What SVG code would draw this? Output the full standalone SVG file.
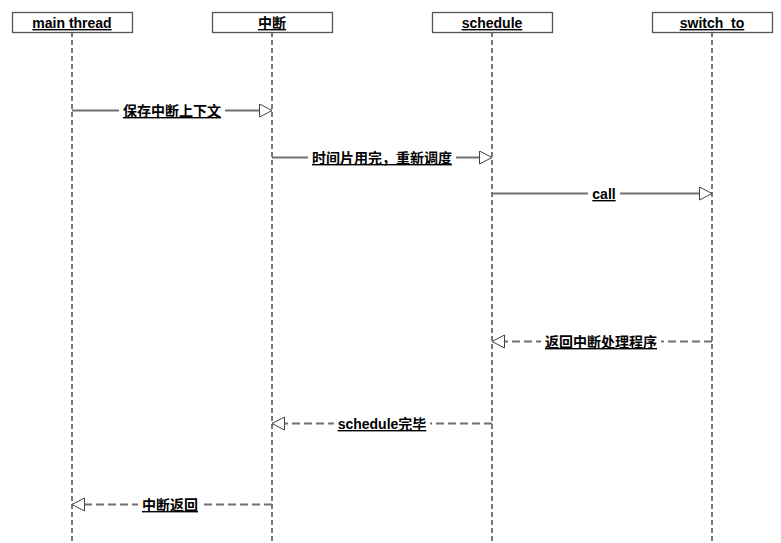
<svg xmlns="http://www.w3.org/2000/svg" width="781" height="543" viewBox="0 0 781 543">
<style>
.box{fill:#fff;stroke:#555;stroke-width:1.3}
.life{stroke:#777;stroke-width:2;stroke-dasharray:5,3;fill:none}
.msg{stroke:#707070;stroke-width:2;fill:none}
.ret{stroke:#707070;stroke-width:2;stroke-dasharray:8,4;fill:none}
.t{font-family:"Liberation Sans","Noto Sans CJK SC",sans-serif;font-size:14px;font-weight:bold;fill:#000;text-decoration:underline;text-anchor:middle}
.lbl{fill:#fff}
</style>
<defs>
<marker id="arr" markerWidth="16" markerHeight="16" refX="13" refY="7" orient="auto" markerUnits="userSpaceOnUse">
<path d="M0.5,0.5 L13,7 L0.5,13.5 Z" fill="#fff" stroke="#444" stroke-width="1"/>
</marker>
</defs>
<rect width="781" height="543" fill="#fff"/>
<g id="n-main">
<line class="life" x1="72" y1="32" x2="72" y2="543"/>
<rect class="box" x="12.5" y="12.5" width="120" height="20"/>
<text class="t" x="72" y="28">main thread</text>
</g>
<g id="n-int">
<line class="life" x1="272" y1="32" x2="272" y2="543"/>
<rect class="box" x="212.5" y="12.5" width="120" height="20"/>
<text class="t" x="272" y="28">中断</text>
</g>
<g id="n-sched">
<line class="life" x1="492" y1="32" x2="492" y2="543"/>
<rect class="box" x="432.5" y="12.5" width="120" height="20"/>
<text class="t" x="492" y="28">schedule</text>
</g>
<g id="n-switch">
<line class="life" x1="712" y1="32" x2="712" y2="543"/>
<rect class="box" x="652.5" y="12.5" width="120" height="20"/>
<text class="t" x="712" y="28">switch_to</text>
</g>
<g id="connectors">
<line class="msg" x1="72" y1="110.5" x2="272" y2="110.5" marker-end="url(#arr)"/>
<rect class="lbl" x="119" y="102" width="106" height="17"/>
<text class="t" x="172" y="116">保存中断上下文</text>

<line class="msg" x1="272" y1="157.5" x2="492" y2="157.5" marker-end="url(#arr)"/>
<rect class="lbl" x="308" y="149" width="148" height="17"/>
<text class="t" x="382" y="163">时间片用完，重新调度</text>

<line class="msg" x1="492" y1="193.5" x2="712" y2="193.5" marker-end="url(#arr)"/>
<rect class="lbl" x="588" y="185" width="32" height="17"/>
<text class="t" x="604" y="199">call</text>

<line class="ret" x1="712" y1="341.5" x2="492" y2="341.5" marker-end="url(#arr)"/>
<rect class="lbl" x="541" y="333" width="120" height="17"/>
<text class="t" x="601" y="347">返回中断处理程序</text>

<line class="ret" x1="492" y1="423.5" x2="272" y2="423.5" marker-end="url(#arr)"/>
<rect class="lbl" x="334" y="415" width="96" height="17"/>
<text class="t" x="382" y="429">schedule完毕</text>

<line class="ret" x1="272" y1="504.5" x2="72" y2="504.5" marker-end="url(#arr)"/>
<rect class="lbl" x="138" y="496" width="64" height="17"/>
<text class="t" x="170" y="510">中断返回</text>
</g>
</svg>
